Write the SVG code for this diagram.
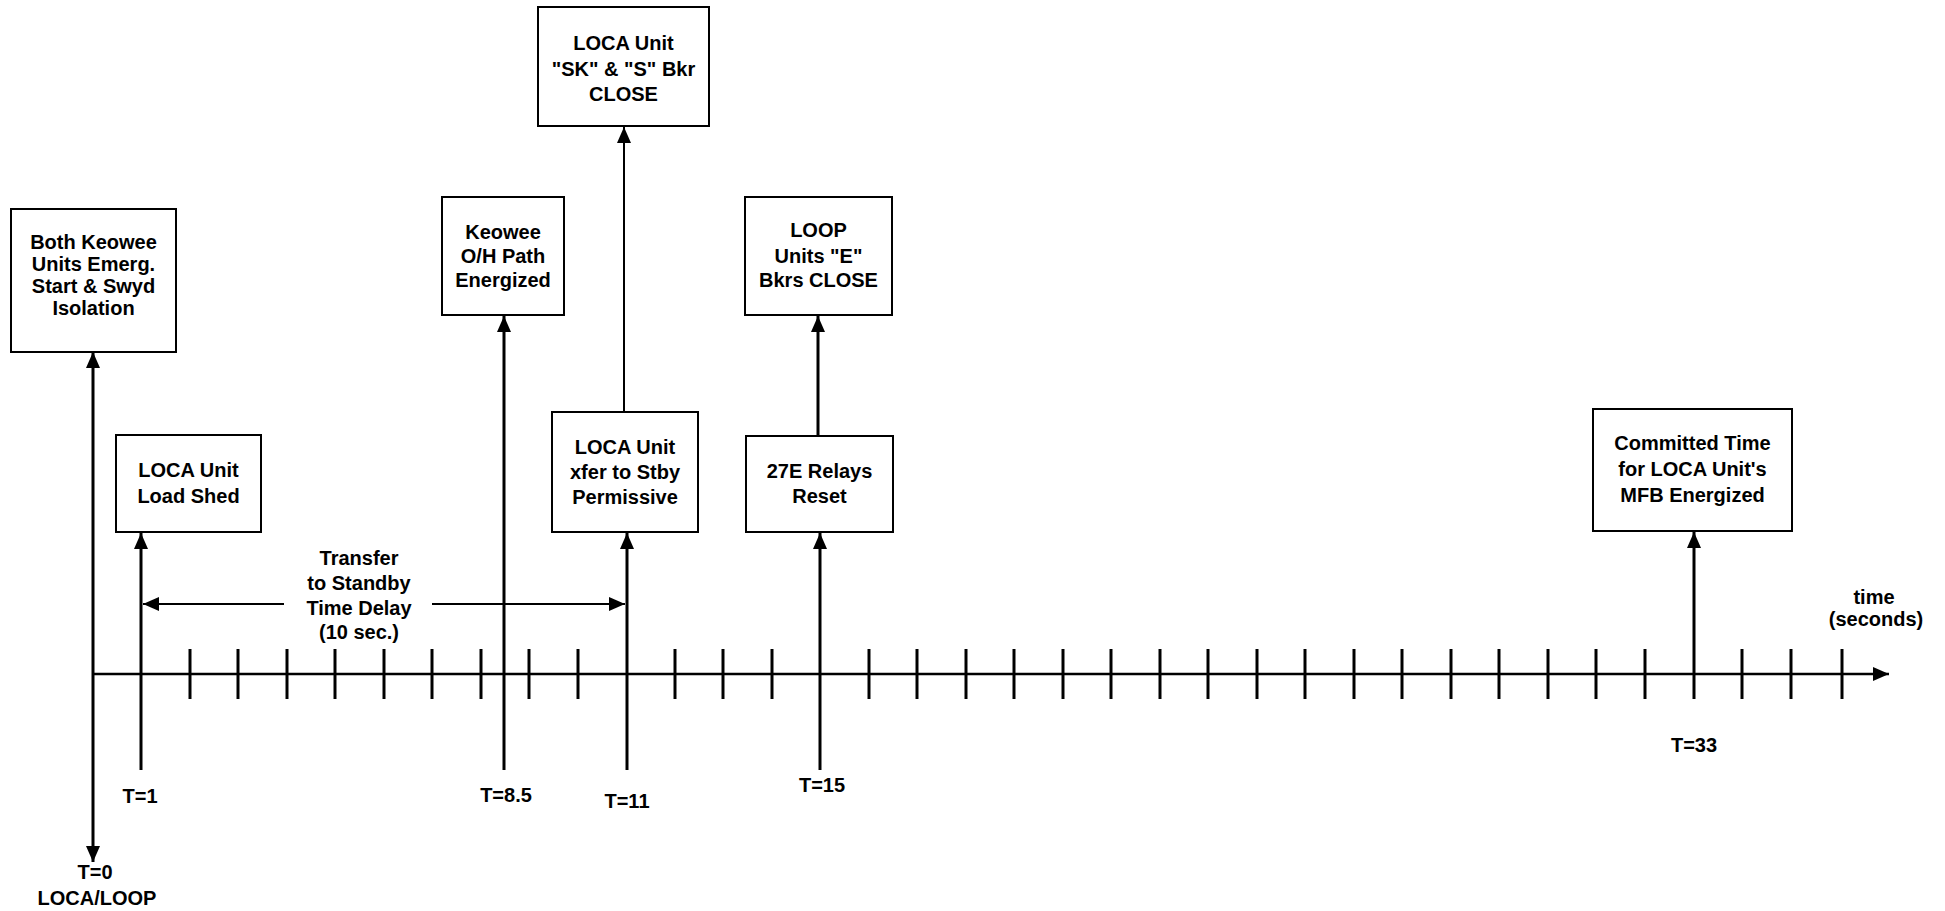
<svg xmlns="http://www.w3.org/2000/svg" width="1945" height="911" viewBox="0 0 1945 911">
<style>
.box{fill:#fff;stroke:#000;stroke-width:2}
.t{font-family:"Liberation Sans",Arial,sans-serif;font-weight:bold;font-size:20px;text-anchor:middle;fill:#000}
.lbl{font-family:"Liberation Sans",Arial,sans-serif;font-weight:bold;font-size:20px;text-anchor:middle;fill:#000}
.ev{stroke:#000;stroke-width:3;fill:none}
.thin{stroke:#000;stroke-width:2;fill:none}
.tick{stroke:#000;stroke-width:3}
</style>
<defs>
<marker id="ah" markerUnits="userSpaceOnUse" markerWidth="18" markerHeight="16" refX="16" refY="7" orient="auto-start-reverse" viewBox="0 0 18 16">
<path d="M0,0 L16,7 L0,14 z" fill="#000"/>
</marker>
</defs>
<rect width="1945" height="911" fill="#fff"/>

<g id="axis">
<line x1="93" y1="674" x2="1889" y2="674" stroke="#000" stroke-width="2.5" marker-end="url(#ah)"/>
<g id="ticks" class="tick">
<line x1="190" y1="649" x2="190" y2="699"/>
<line x1="238" y1="649" x2="238" y2="699"/>
<line x1="287" y1="649" x2="287" y2="699"/>
<line x1="335" y1="649" x2="335" y2="699"/>
<line x1="384" y1="649" x2="384" y2="699"/>
<line x1="432" y1="649" x2="432" y2="699"/>
<line x1="481" y1="649" x2="481" y2="699"/>
<line x1="529" y1="649" x2="529" y2="699"/>
<line x1="578" y1="649" x2="578" y2="699"/>
<line x1="675" y1="649" x2="675" y2="699"/>
<line x1="723" y1="649" x2="723" y2="699"/>
<line x1="772" y1="649" x2="772" y2="699"/>
<line x1="869" y1="649" x2="869" y2="699"/>
<line x1="917" y1="649" x2="917" y2="699"/>
<line x1="966" y1="649" x2="966" y2="699"/>
<line x1="1014" y1="649" x2="1014" y2="699"/>
<line x1="1063" y1="649" x2="1063" y2="699"/>
<line x1="1111" y1="649" x2="1111" y2="699"/>
<line x1="1160" y1="649" x2="1160" y2="699"/>
<line x1="1208" y1="649" x2="1208" y2="699"/>
<line x1="1257" y1="649" x2="1257" y2="699"/>
<line x1="1305" y1="649" x2="1305" y2="699"/>
<line x1="1354" y1="649" x2="1354" y2="699"/>
<line x1="1402" y1="649" x2="1402" y2="699"/>
<line x1="1451" y1="649" x2="1451" y2="699"/>
<line x1="1499" y1="649" x2="1499" y2="699"/>
<line x1="1548" y1="649" x2="1548" y2="699"/>
<line x1="1596" y1="649" x2="1596" y2="699"/>
<line x1="1645" y1="649" x2="1645" y2="699"/>
<line x1="1742" y1="649" x2="1742" y2="699"/>
<line x1="1791" y1="649" x2="1791" y2="699"/>
<line x1="1842" y1="649" x2="1842" y2="699"/>
</g>
<text class="lbl" x="1874" y="604">time</text>
<text class="lbl" x="1876" y="626">(seconds)</text>
</g>

<g id="connectors">
<line class="ev" x1="93" y1="352" x2="93" y2="862" marker-start="url(#ah)" marker-end="url(#ah)"/>
<line class="ev" x1="141" y1="770" x2="141" y2="533" marker-end="url(#ah)"/>
<line class="ev" x1="504" y1="770" x2="504" y2="316" marker-end="url(#ah)"/>
<line class="ev" x1="627" y1="770" x2="627" y2="533" marker-end="url(#ah)"/>
<line class="ev" x1="820" y1="770" x2="820" y2="533" marker-end="url(#ah)"/>
<line class="ev" x1="1694" y1="699" x2="1694" y2="532" marker-end="url(#ah)"/>
<line class="thin" x1="624" y1="412" x2="624" y2="127" marker-end="url(#ah)"/>
<line class="ev" x1="818" y1="436" x2="818" y2="316" stroke-width="2.5" marker-end="url(#ah)"/>
<line class="thin" x1="284" y1="604" x2="143" y2="604" marker-end="url(#ah)"/>
<line class="thin" x1="432" y1="604" x2="625" y2="604" marker-end="url(#ah)"/>
</g>

<g id="transfer-label">
<text class="t" x="359" y="565">Transfer</text>
<text class="t" x="359" y="590">to Standby</text>
<text class="t" x="359" y="615">Time Delay</text>
<text class="t" x="359" y="639">(10 sec.)</text>
</g>

<g id="n-both-keowee">
<rect class="box" x="11" y="209" width="165" height="143"/>
<text class="t" x="93.5" y="249">Both Keowee</text>
<text class="t" x="93.5" y="271">Units Emerg.</text>
<text class="t" x="93.5" y="293">Start &amp; Swyd</text>
<text class="t" x="93.5" y="315">Isolation</text>
</g>

<g id="n-load-shed">
<rect class="box" x="116" y="435" width="145" height="97"/>
<text class="t" x="188.5" y="477">LOCA Unit</text>
<text class="t" x="188.5" y="503">Load Shed</text>
</g>

<g id="n-keowee-oh">
<rect class="box" x="442" y="197" width="122" height="118"/>
<text class="t" x="503" y="239">Keowee</text>
<text class="t" x="503" y="263">O/H Path</text>
<text class="t" x="503" y="287">Energized</text>
</g>

<g id="n-loca-sk">
<rect class="box" x="538" y="7" width="171" height="119"/>
<text class="t" x="623.5" y="50">LOCA Unit</text>
<text class="t" x="623.5" y="76">"SK" &amp; "S" Bkr</text>
<text class="t" x="623.5" y="101">CLOSE</text>
</g>

<g id="n-loca-xfer">
<rect class="box" x="552" y="412" width="146" height="120"/>
<text class="t" x="625" y="454">LOCA Unit</text>
<text class="t" x="625" y="479">xfer to Stby</text>
<text class="t" x="625" y="504">Permissive</text>
</g>

<g id="n-loop">
<rect class="box" x="745" y="197" width="147" height="118"/>
<text class="t" x="818.5" y="237">LOOP</text>
<text class="t" x="818.5" y="263">Units "E"</text>
<text class="t" x="818.5" y="287">Bkrs CLOSE</text>
</g>

<g id="n-27e">
<rect class="box" x="746" y="436" width="147" height="96"/>
<text class="t" x="819.5" y="478">27E Relays</text>
<text class="t" x="819.5" y="503">Reset</text>
</g>

<g id="n-committed">
<rect class="box" x="1593" y="409" width="199" height="122"/>
<text class="t" x="1692.5" y="450">Committed Time</text>
<text class="t" x="1692.5" y="476">for LOCA Unit's</text>
<text class="t" x="1692.5" y="502">MFB Energized</text>
</g>

<g id="time-labels">
<text class="lbl" x="95" y="879">T=0</text>
<text class="lbl" x="97" y="905">LOCA/LOOP</text>
<text class="lbl" x="140" y="803">T=1</text>
<text class="lbl" x="506" y="802">T=8.5</text>
<text class="lbl" x="627" y="808">T=11</text>
<text class="lbl" x="822" y="792">T=15</text>
<text class="lbl" x="1694" y="752">T=33</text>
</g>
</svg>
